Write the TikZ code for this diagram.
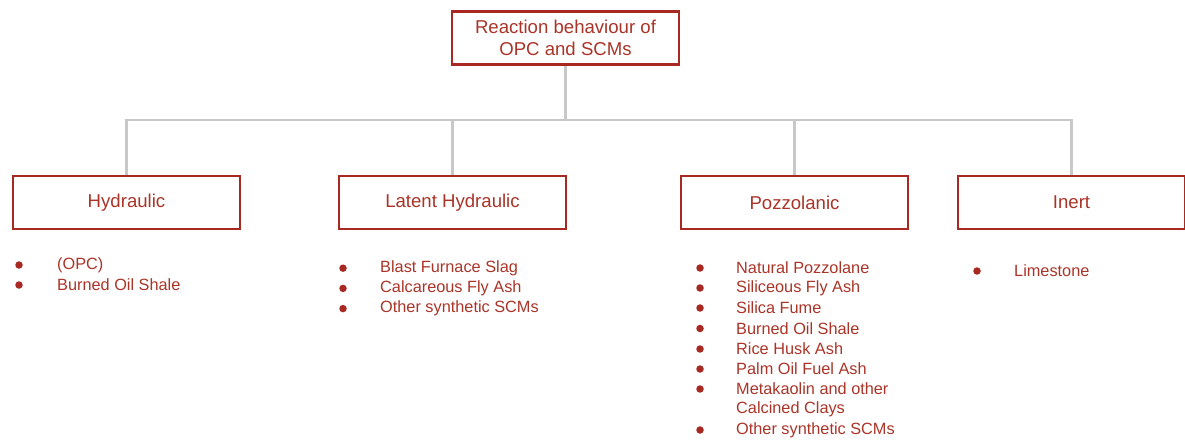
\documentclass[tikz,border=0pt]{standalone}
\usepackage{fontspec}
\setmainfont{Liberation Sans}
\usepackage{tikz}
\usetikzlibrary{positioning,backgrounds}

\definecolor{boxred}{RGB}{168,40,34}
\definecolor{txtred}{RGB}{170,52,40}
\definecolor{linkgray}{RGB}{200,200,200}

\tikzset{
  cat/.style={draw=boxred, line width=2.2pt, fill=white, text=txtred,
    minimum width=227pt, minimum height=53pt, inner sep=0pt,
    font=\fontsize{18.6}{22}\selectfont},
  link/.style={draw=linkgray, line width=2.6pt},
  item/.style={anchor=west, text=txtred, inner sep=0pt},
  dot/.style={circle, fill=boxred, minimum size=7.5pt, inner sep=0pt}
}

\begin{document}
\begin{tikzpicture}[x=1pt, y=-1pt, font=\fontsize{16.3}{20.5}\selectfont]
    \useasboundingbox (0,0) rectangle (1185,441);

    %% root
    \node[cat, align=center] (root) at (565.5,38)
      {Reaction behaviour of\\OPC and SCMs};

    %% categories
    \node[cat] (hyd) at (126.5,202.5) {Hydraulic};
    \node[cat] (lat) at (452.5,202.5) {Latent Hydraulic};
    \node[cat] (poz) at (794.5,202.5) {Pozzolanic};
    \node[cat] (ine) at (1071.5,202.5) {Inert};

    %% connectors
    \coordinate (bar) at (0,120);
    \begin{scope}[on background layer]
      \draw[link] (root.south) -- (root.south |- bar);
      \draw[link] (hyd.north) |- (bar -| ine.north) -- (ine.north);
      \draw[link] (lat.north) -- (lat.north |- bar);
      \draw[link] (poz.north) -- (poz.north |- bar);
    \end{scope}

    %% hydraulic list
    \foreach \t [count=\i] in {(OPC),Burned Oil Shale}{
      \node[dot] (hb\i) at (19,{245+20*\i}) {};
      \node[item] (hi\i) at (57,{245+20*\i}) {\t};}

    %% latent hydraulic list
    \foreach \t [count=\i] in {Blast Furnace Slag,Calcareous Fly Ash,Other synthetic SCMs}{
      \node[dot] (lb\i) at (343,{248+20.2*\i}) {};
      \node[item] (li\i) at (380,{248+20.2*\i}) {\t};}

    %% pozzolanic list
    \foreach \t/\y [count=\i] in {Natural Pozzolane/268,Siliceous Fly Ash/288,
        Silica Fume/308,Burned Oil Shale/328.5,Rice Husk Ash/349,
        Palm Oil Fuel Ash/369,Metakaolin and other/389,Other synthetic SCMs/430}{
      \node[dot] (pb\i) at (700,\y) {};
      \node[item] (pi\i) at (736,\y) {\t};}
    \node[item] (pi7b) at (736,409.5) {Calcined Clays};

    %% inert list
    \node[dot] (ib1) at (977,271) {};
    \node[item] (ii1) at (1014,271) {Limestone};
  \end{tikzpicture}
\end{document}
